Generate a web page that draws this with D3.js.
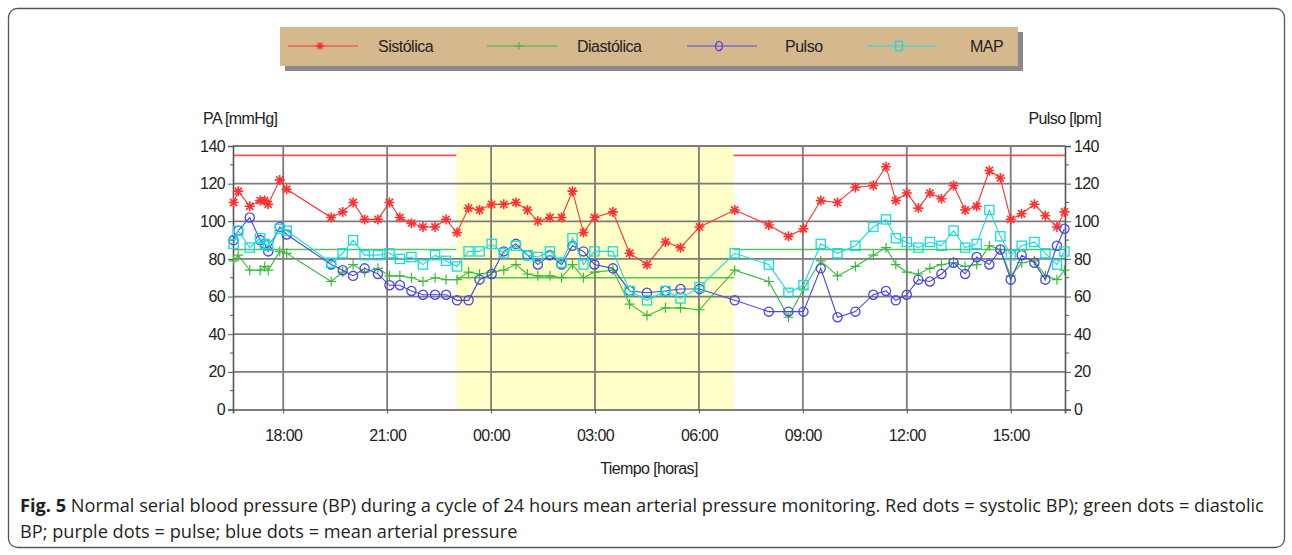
<!DOCTYPE html>
<html>
<head>
<meta charset="utf-8">
<script src="https://cdn.jsdelivr.net/npm/d3@7"></script>
<style>
  body { margin: 0; background: #fff; }
  svg { display: block; }
</style>
</head>
<body>
<div id="chart"></div>
<script>
// measurement times (clock), one per reading, crossing midnight
const times = ["16:34","16:42","17:02","17:20","17:28","17:34","17:54","18:06","19:23","19:43",
  "20:01","20:21","20:44","21:04","21:22","21:42","22:02","22:23","22:42","23:01",
  "23:21","23:40","00:01","00:22","00:43","01:03","01:21","01:42","02:02","02:21",
  "02:40","02:59","03:31","04:00","04:30","05:02","05:28","06:01","07:02","08:01",
  "08:35","09:01","09:31","10:00","10:31","11:02","11:24","11:41","12:00","12:20",
  "12:40","13:00","13:21","13:41","14:01","14:23","14:42","15:00","15:19","15:41",
  "16:00","16:20","16:33"];

const sistolica = [110,116,108,111,111,109,122,117,102,105,110,101,101,110,102,99,97,97,101,94,
  107,106,109,109,110,106,100,102,102,116,94,102,105,83,77,89,86,97,106,98,
  92,96,111,110,118,119,129,111,115,107,115,112,119,106,108,127,123,101,104,109,
  103,97,105];

const diastolica = [79,82,74,74,76,74,84,83,68,73,77,73,75,71,71,70,68,70,69,69,
  73,72,73,74,77,72,71,71,70,77,70,73,74,56,50,54,54,53,74,68,
  49,64,79,71,76,82,86,77,73,72,75,77,78,76,77,87,85,71,78,79,
  71,69,74];

const pulso = [90,95,102,90,88,84,97,93,77,74,71,75,72,66,66,63,61,61,61,58,
  58,69,72,84,88,82,77,82,77,87,84,77,75,63,62,63,64,64,58,52,
  52,52,75,49,52,61,63,58,61,69,68,72,78,72,81,77,85,69,82,78,
  69,87,96];

const map = [88,95,86,91,88,87,96,95,78,83,90,82,82,83,80,81,77,82,79,76,
  84,84,88,83,87,82,81,84,78,91,77,84,84,63,58,63,59,65,83,77,
  62,66,88,83,87,97,101,91,89,86,89,87,95,86,88,106,92,82,87,89,
  83,77,84];

const domainTimes = ["16:33", "16:34"];
const nightTimes = ["23:00", "07:00"];
// reference limits: systolic (day only), diastolic [day, night]
const sysLimit = 135;
const diaLimit = [85, 70];
const yTicks = [0, 20, 40, 60, 80, 100, 120, 140];

const seriesNames = ["Sistólica", "Diastólica", "Pulso", "MAP"];
const seriesColors = ["#ff3030", "#3cb83c", "#4848e0", "#18dcdc"];

const width = 1292, height = 555;
const margin = { top: 146, right: 227, bottom: 145.5, left: 233 };

const parseClock = d3.timeParse("%H:%M");
function toDate(str, dayOffset) {
  const t = parseClock(str);
  return new Date(2000, 0, 1 + dayOffset, t.getHours(), t.getMinutes());
}

let day = 0, prev = -1;
const dates = times.map((s) => {
  const t = parseClock(s);
  const m = t.getHours() * 60 + t.getMinutes();
  if (m < prev) day++;
  prev = m;
  return toDate(s, day);
});

const start = toDate(domainTimes[0], 0);
const end = toDate(domainTimes[1], 1);
const nightStart = toDate(nightTimes[0], 0);
const nightEnd = toDate(nightTimes[1], 1);

const x = d3.scaleTime()
  .domain([start, end])
  .range([margin.left, width - margin.right]);

const y = d3.scaleLinear()
  .domain([0, 140])
  .range([height - margin.bottom, margin.top]);

const svg = d3.select("#chart")
  .append("svg")
  .attr("width", width)
  .attr("height", height)
  .style("font-family", "'Liberation Sans', Arial, sans-serif");

// outer frame
svg.append("rect")
  .attr("x", 8.5).attr("y", 8.5)
  .attr("width", 1276).attr("height", 539)
  .attr("rx", 9)
  .attr("fill", "none")
  .attr("stroke", "#555")
  .attr("stroke-width", 1.3);

// night band
svg.append("rect")
  .attr("x", x(nightStart))
  .attr("y", y(140))
  .attr("width", x(nightEnd) - x(nightStart))
  .attr("height", y(0) - y(140))
  .attr("fill", "#ffffc8");

// reference limit lines (under the grid)
const limitSegments = [
  { x0: start, x1: nightStart, v: sysLimit, c: seriesColors[0] },
  { x0: nightEnd, x1: end, v: sysLimit, c: seriesColors[0] },
  { x0: start, x1: nightStart, v: diaLimit[0], c: seriesColors[1] },
  { x0: nightStart, x1: nightEnd, v: diaLimit[1], c: seriesColors[1] },
  { x0: nightEnd, x1: end, v: diaLimit[0], c: seriesColors[1] },
];
svg.append("g")
  .selectAll("line")
  .data(limitSegments)
  .join("line")
  .attr("x1", (d) => x(d.x0)).attr("x2", (d) => x(d.x1))
  .attr("y1", (d) => y(d.v)).attr("y2", (d) => y(d.v))
  .attr("stroke", (d) => d.c)
  .attr("stroke-opacity", 0.85)
  .attr("stroke-width", 1.6);

// grid
const grid = svg.append("g").attr("stroke", "#7c7c7c").attr("stroke-width", 1.8);
grid.selectAll("line.h")
  .data(yTicks.slice(1))
  .join("line")
  .attr("x1", x(start)).attr("x2", x(end))
  .attr("y1", (d) => y(d)).attr("y2", (d) => y(d));
grid.selectAll("line.v")
  .data(x.ticks(d3.timeHour.every(3)))
  .join("line")
  .attr("x1", (d) => x(d)).attr("x2", (d) => x(d))
  .attr("y1", y(0)).attr("y2", y(140));

// axes
const fmt = d3.timeFormat("%H:%M");
const xAxis = svg.append("g")
  .attr("transform", `translate(0,${y(0)})`)
  .call(d3.axisBottom(x).ticks(d3.timeHour.every(3)).tickFormat(fmt).tickSize(4).tickPadding(16));
const yLeft = svg.append("g")
  .attr("transform", `translate(${x(start)},0)`)
  .call(d3.axisLeft(y).tickValues(yTicks).tickSize(5).tickPadding(3));
const yRight = svg.append("g")
  .attr("transform", `translate(${x(end)},0)`)
  .call(d3.axisRight(y).tickValues(yTicks).tickSize(6).tickPadding(3));

// minor ticks
svg.append("g")
  .selectAll("line")
  .data(d3.range(10, 140, 20))
  .join("line")
  .attr("x1", x(start) - 3).attr("x2", x(start))
  .attr("y1", (d) => y(d)).attr("y2", (d) => y(d))
  .attr("stroke", "#555");
svg.append("g")
  .selectAll("line")
  .data(d3.range(10, 140, 20))
  .join("line")
  .attr("x1", x(end)).attr("x2", x(end) + 4)
  .attr("y1", (d) => y(d)).attr("y2", (d) => y(d))
  .attr("stroke", "#555");

[xAxis, yLeft, yRight].forEach((g) => {
  g.select(".domain").attr("stroke", "#555").attr("stroke-width", 1.6);
  g.selectAll(".tick line").attr("stroke", "#555");
  g.selectAll("text")
    .attr("fill", "#222")
    .style("font-size", "16px")
    .style("font-family", "'Liberation Sans', Arial, sans-serif")
    .attr("letter-spacing", "-0.6");
});

// axis titles
const title = (t, tx, ty, anchor) => svg.append("text")
  .attr("x", tx).attr("y", ty)
  .attr("text-anchor", anchor)
  .attr("fill", "#222")
  .attr("font-size", 16)
  .attr("letter-spacing", "-0.6")
  .text(t);
title("PA [mmHg]", 203, 124, "start");
title("Pulso [lpm]", 1101, 124, "end");
title("Tiempo [horas]", (x(start) + x(end)) / 2, 474, "middle");

// markers
const starPath = "M-5,0H5M0,-5V5M-3.6,-3.6L3.6,3.6M-3.6,3.6L3.6,-3.6";
const plusPath = "M-5,0H5M0,-5V5";
function drawMarker(g, kind, color, scale = 1) {
  if (kind === 0) {
    g.append("path").attr("d", starPath).attr("stroke", color).attr("stroke-width", 1.6)
      .attr("transform", `scale(${scale})`);
  } else if (kind === 1) {
    g.append("path").attr("d", plusPath).attr("stroke", color).attr("stroke-width", 1.2)
      .attr("transform", `scale(${scale})`);
  } else if (kind === 2) {
    g.append("ellipse").attr("rx", 4.6 * scale).attr("ry", 4.6).attr("fill", "none")
      .attr("stroke", color).attr("stroke-width", 1.3);
  } else {
    g.append("rect").attr("x", -4.6 * scale).attr("y", -4.6).attr("width", 9.2 * scale)
      .attr("height", 9.2).attr("fill", "none").attr("stroke", color).attr("stroke-width", 1.3);
  }
}

const allSeries = [sistolica, diastolica, pulso, map];
const line = d3.line().x((d) => x(d[0])).y((d) => y(d[1]));

allSeries.forEach((values, i) => {
  const pts = values.map((v, j) => [dates[j], v]);
  const g = svg.append("g");
  g.append("path")
    .datum(pts)
    .attr("d", line)
    .attr("fill", "none")
    .attr("stroke", seriesColors[i])
    .attr("stroke-width", 1.1);
  g.selectAll("g")
    .data(pts)
    .join("g")
    .attr("transform", (d) => `translate(${x(d[0])},${y(d[1])})`)
    .each(function () {
      drawMarker(d3.select(this), i, seriesColors[i]);
    });
});

// legend
const legend = svg.append("g");
legend.append("rect")
  .attr("x", 285).attr("y", 32).attr("width", 738).attr("height", 39)
  .attr("fill", "#8a8a8a");
legend.append("rect")
  .attr("x", 280).attr("y", 27).attr("width", 738).attr("height", 39)
  .attr("fill", "#d6b88e");
const legendX = [288, 487, 687, 867];
const textX = [378, 577, 785, 970];
seriesNames.forEach((name, i) => {
  const item = legend.append("g");
  item.append("line")
    .attr("x1", legendX[i]).attr("x2", legendX[i] + 70)
    .attr("y1", 46).attr("y2", 46)
    .attr("stroke", seriesColors[i])
    .attr("stroke-width", 1.2);
  const m = item.append("g").attr("transform", `translate(${legendX[i] + 32},46)`);
  drawMarker(m, i, seriesColors[i], i >= 2 ? 0.75 : 0.8);
  item.append("text")
    .attr("x", textX[i]).attr("y", 52)
    .attr("fill", "#222")
    .attr("font-size", 16)
    .attr("letter-spacing", "-0.5")
    .text(name);
});

// caption
const caption = svg.append("text")
  .attr("fill", "#231f20")
  .style("font-family", "'Open Sans', 'Noto Sans', sans-serif")
  .attr("font-size", 18.2);
const l1 = caption.append("tspan").attr("x", 20).attr("y", 512);
l1.append("tspan").attr("font-weight", "bold").text("Fig. 5");
l1.append("tspan").text(" Normal serial blood pressure (BP) during a cycle of 24 hours mean arterial pressure monitoring. Red dots = systolic BP); green dots = diastolic");
caption.append("tspan").attr("x", 20).attr("y", 538)
  .text("BP; purple dots = pulse; blue dots = mean arterial pressure");
</script>
</body>
</html>
